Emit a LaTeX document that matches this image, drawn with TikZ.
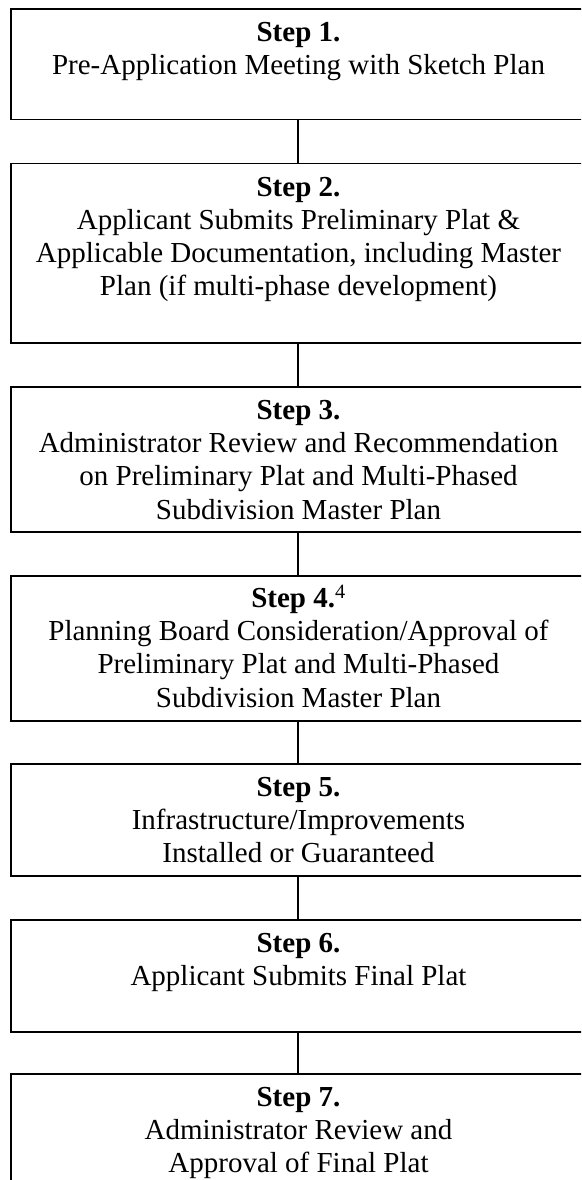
\documentclass[tikz,border=0pt]{standalone}
\usepackage{fontspec}
\setmainfont{Liberation Serif}
\newcommand\stepcontent[3]{\parbox[c][#1][t]{575pt}{\centering\rule{0pt}{32.5pt}\textbf{Step #2}\\#3}}
\tikzset{
  stepbox/.style={draw=black, line width=1.9pt, rectangle, inner sep=0pt, outer sep=0pt, anchor=north,
    font=\fontsize{29}{33.2}\selectfont},
  conn/.style={draw=black, line width=1.9pt}
}
\begin{document}
\begin{tikzpicture}[x=1pt,y=-1pt]
\useasboundingbox (0,0) rectangle (581,1180);
\clip (0,0) rectangle (581,1180);
\fill[white] (0,0) rectangle (581,1180);
\node[stepbox] (s1) at (298.5,9) {\stepcontent{110.5pt}{1.}{Pre-Application Meeting with Sketch Plan}};
\node[stepbox] (s2) at (298.5,163.5) {\stepcontent{179.5pt}{2.}{Applicant Submits Preliminary Plat \&\\Applicable Documentation, including Master\\Plan (if multi-phase development)}};
\node[stepbox] (s3) at (298.5,387) {\stepcontent{145pt}{3.}{Administrator Review and Recommendation\\on Preliminary Plat and Multi-Phased\\Subdivision Master Plan}};
\node[stepbox] (s4) at (298.5,576) {\parbox[c][145pt][t]{575pt}{\centering\rule{0pt}{31.5pt}\textbf{Step 4.}\textsuperscript{4}\\Planning Board Consideration/Approval of\\Preliminary Plat and Multi-Phased\\Subdivision Master Plan}};
\node[stepbox] (s5) at (298.5,764) {\stepcontent{112pt}{5.}{Infrastructure/Improvements\\Installed or Guaranteed}};
\node[stepbox] (s6) at (298.5,920) {\stepcontent{112pt}{6.}{Applicant Submits Final Plat}};
\node[stepbox] (s7) at (298.5,1074) {\stepcontent{140pt}{7.}{Administrator Review and\\Approval of Final Plat}};
\draw[conn] ([xshift=-0.5pt]s1.south) -- ([xshift=-0.5pt]s2.north);
\draw[conn] ([xshift=-0.5pt]s2.south) -- ([xshift=-0.5pt]s3.north);
\draw[conn] ([xshift=-0.5pt]s3.south) -- ([xshift=-0.5pt]s4.north);
\draw[conn] ([xshift=-0.5pt]s4.south) -- ([xshift=-0.5pt]s5.north);
\draw[conn] ([xshift=-0.5pt]s5.south) -- ([xshift=-0.5pt]s6.north);
\draw[conn] ([xshift=-0.5pt]s6.south) -- ([xshift=-0.5pt]s7.north);
\end{tikzpicture}
\end{document}
